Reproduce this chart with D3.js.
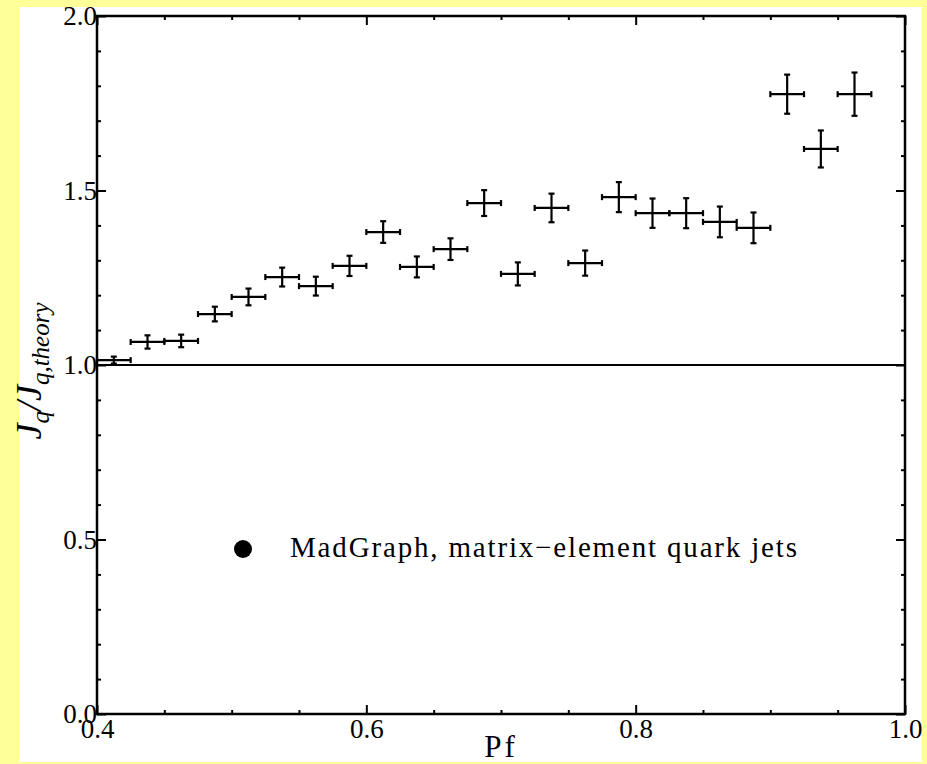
<!DOCTYPE html>
<html lang="en">
<head>
    <meta charset="UTF-8">
    <title>Jq / Jq,theory vs Pf</title>
    <script src="https://d3js.org/d3.v7.min.js"></script>
    <style>
        body { margin: 0; background: #ffff99; }
        svg text { font-family: "Liberation Serif", "Times New Roman", Times, "DejaVu Serif", serif !important; fill: #000; }
        .tick line { stroke: #000; stroke-width: 2; }
        .tick text { font-size: 27px; }
    </style>
</head>
<body>
    <svg width="927" height="764"></svg>
    <script>
        // bin centres in Pf
        const pf = [0.4125, 0.4375, 0.4625, 0.4875, 0.5125, 0.5375, 0.5625, 0.5875,
                    0.6125, 0.6375, 0.6625, 0.6875, 0.7125, 0.7375, 0.7625, 0.7875,
                    0.8125, 0.8375, 0.8625, 0.8875, 0.9125, 0.9375, 0.9625];
        // half bin width
        const pfErr = [0.0125, 0.0125, 0.0125, 0.0125, 0.0125, 0.0125, 0.0125, 0.0125,
                       0.0125, 0.0125, 0.0125, 0.0125, 0.0125, 0.0125, 0.0125, 0.0125,
                       0.0125, 0.0125, 0.0125, 0.0125, 0.0125, 0.0125, 0.0125];
        // Jq / Jq,theory
        const ratio = [1.014, 1.066, 1.069, 1.146, 1.195, 1.252, 1.226, 1.284,
                       1.381, 1.281, 1.332, 1.464, 1.261, 1.450, 1.292, 1.481,
                       1.435, 1.435, 1.410, 1.393, 1.776, 1.619, 1.776];
        const ratioErr = [0.010, 0.019, 0.018, 0.021, 0.024, 0.027, 0.027, 0.029,
                          0.031, 0.030, 0.031, 0.037, 0.033, 0.041, 0.036, 0.043,
                          0.042, 0.043, 0.044, 0.044, 0.056, 0.053, 0.062];

        const xMajor = [0.4, 0.6, 0.8, 1.0];
        const xMinor = [0.45, 0.5, 0.55, 0.65, 0.7, 0.75, 0.85, 0.9, 0.95];
        const yMajor = [0.0, 0.5, 1.0, 1.5, 2.0];
        const yMinor = [0.1, 0.2, 0.3, 0.4, 0.6, 0.7, 0.8, 0.9, 1.1, 1.2, 1.3, 1.4, 1.6, 1.7, 1.8, 1.9];
        const legendText = "MadGraph, matrix\u2212element quark jets";

        const serif = "'Liberation Serif', 'Times New Roman', Times, 'DejaVu Serif', serif";
        const margin = { top: 16, right: 22, bottom: 50, left: 97 };
        const width = 927 - margin.left - margin.right;
        const height = 764 - margin.top - margin.bottom;

        const root = d3.select("svg");

        // yellow page, white panel
        root.append("rect").attr("width", 927).attr("height", 764).attr("fill", "#ffff99");
        root.append("rect").attr("x", 19).attr("y", 7).attr("width", 903).attr("height", 755).attr("fill", "#fff");

        const svg = root.append("g")
            .attr("font-family", serif)
            .attr("transform", "translate(" + margin.left + "," + margin.top + ")");

        const x = d3.scaleLinear().domain([0.4, 1.0]).range([0, width]);
        const y = d3.scaleLinear().domain([0, 2.0]).range([height, 0]);

        // ticks (inward) on all four sides
        function addAxis(axis, tf) {
            const g = svg.append("g").attr("transform", tf).call(axis);
            g.select(".domain").remove();
            g.attr("font-family", serif).attr("font-size", 27);
            return g;
        }
        const fmt = d3.format(".1f");
        addAxis(d3.axisBottom(x).tickValues(xMajor).tickSize(-9).tickPadding(5).tickFormat(fmt), "translate(0," + height + ")");
        addAxis(d3.axisBottom(x).tickValues(xMinor).tickSize(-4).tickFormat(""), "translate(0," + height + ")");
        addAxis(d3.axisTop(x).tickValues(xMajor).tickSize(-9).tickFormat(""), "translate(0,0)");
        addAxis(d3.axisTop(x).tickValues(xMinor).tickSize(-4).tickFormat(""), "translate(0,0)");
        addAxis(d3.axisLeft(y).tickValues(yMajor).tickSize(-9).tickPadding(0).tickFormat(fmt), "translate(0,0)");
        addAxis(d3.axisLeft(y).tickValues(yMinor).tickSize(-4).tickFormat(""), "translate(0,0)");
        addAxis(d3.axisRight(y).tickValues(yMajor).tickSize(-9).tickFormat(""), "translate(" + width + ",0)");
        addAxis(d3.axisRight(y).tickValues(yMinor).tickSize(-4).tickFormat(""), "translate(" + width + ",0)");

        // frame
        svg.append("rect")
            .attr("width", width).attr("height", height)
            .attr("fill", "none").attr("stroke", "#000").attr("stroke-width", 2.5);

        // reference line at 1
        svg.append("line")
            .attr("x1", x(0.4)).attr("x2", x(1.0))
            .attr("y1", y(1)).attr("y2", y(1))
            .attr("stroke", "#000").attr("stroke-width", 2);

        // error crosses
        const pts = pf.map((v, i) => ({ x: v, dx: pfErr[i], y: ratio[i], dy: ratioErr[i] }));
        const cap = 3;
        const g = svg.selectAll(".pt").data(pts).enter().append("g")
            .attr("class", "pt")
            .attr("stroke", "#000").attr("stroke-width", 2.2);
        g.append("line")
            .attr("x1", d => x(d.x - d.dx)).attr("x2", d => x(d.x + d.dx))
            .attr("y1", d => y(d.y)).attr("y2", d => y(d.y));
        g.append("line")
            .attr("x1", d => x(d.x)).attr("x2", d => x(d.x))
            .attr("y1", d => y(d.y - d.dy)).attr("y2", d => y(d.y + d.dy));
        [-1, 1].forEach(s => {
            g.append("line")
                .attr("x1", d => x(d.x + s * d.dx)).attr("x2", d => x(d.x + s * d.dx))
                .attr("y1", d => y(d.y) - cap).attr("y2", d => y(d.y) + cap);
            g.append("line")
                .attr("x1", d => x(d.x) - cap).attr("x2", d => x(d.x) + cap)
                .attr("y1", d => y(d.y + s * d.dy)).attr("y2", d => y(d.y + s * d.dy));
        });

        // legend
        svg.append("circle").attr("cx", 146).attr("cy", 533).attr("r", 9).attr("fill", "#000");
        svg.append("text")
            .attr("x", 193).attr("y", 541)
            .attr("textLength", 507).attr("lengthAdjust", "spacing")
            .style("font-size", "29px")
            .text(legendText);

        // axis titles
        svg.append("text")
            .attr("x", width / 2).attr("y", height + 43)
            .attr("text-anchor", "middle")
            .style("font-size", "31px").style("letter-spacing", "3px")
            .text("Pf");

        const yl = svg.append("text")
            .attr("transform", "translate(-56," + (height / 2 + 6) + ") rotate(-90)")
            .attr("text-anchor", "middle")
            .style("font-style", "italic").style("font-size", "36px");
        yl.append("tspan").text("J");
        yl.append("tspan").attr("dy", 8).style("font-size", "25px").text("q");
        yl.append("tspan").attr("dy", -8).text("/J");
        yl.append("tspan").attr("dy", 8).style("font-size", "25px").text("q,theory");
    </script>
</body>
</html>
